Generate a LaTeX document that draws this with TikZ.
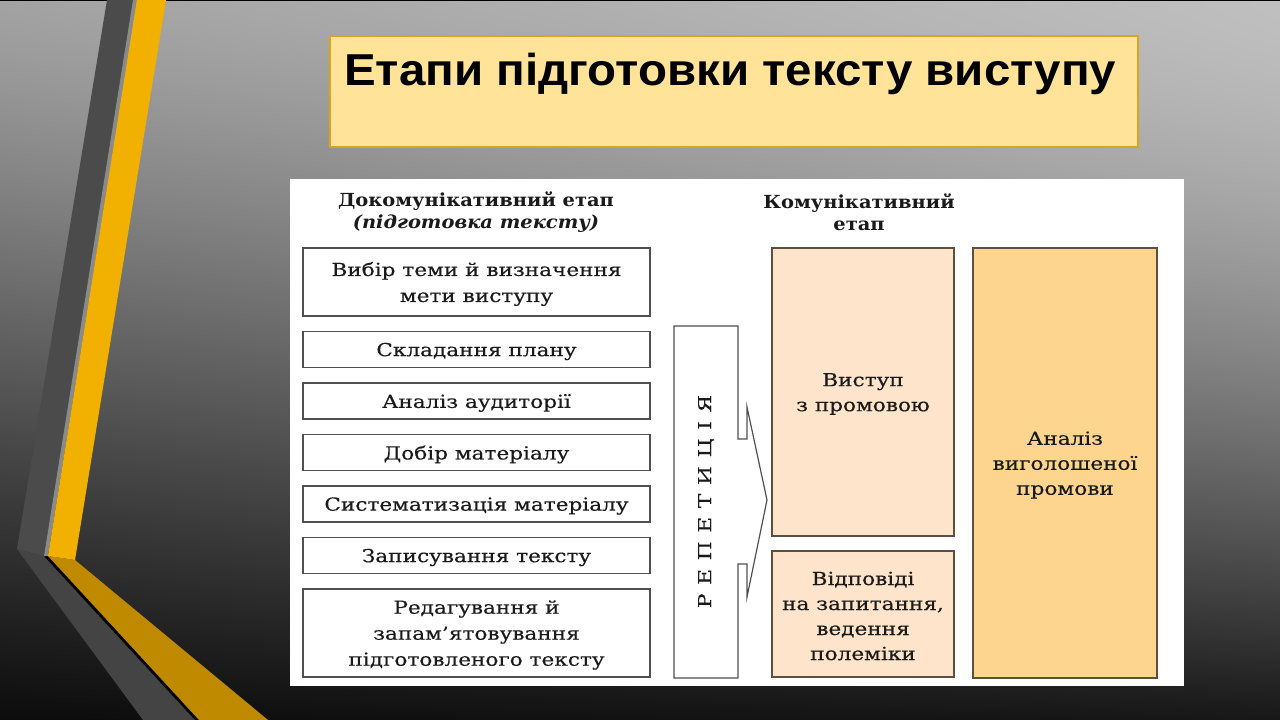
\documentclass[tikz,border=0pt]{standalone}
\usepackage{fontspec}
\usepackage{graphicx}
\setmainfont{DejaVu Serif}
\newfontfamily\titlefont{Liberation Sans}
\newfontfamily\bodyfont{DejaVu Serif}[FakeStretch=1.2, FakeBold=0.35]
\newfontfamily\hdrfont{DejaVu Serif}[FakeStretch=1.08]
\definecolor{stripegray}{HTML}{4B4B4B}
\definecolor{stripegraylow}{HTML}{444444}
\definecolor{stripelight}{HTML}{8A8A8A}
\definecolor{stripeyel}{HTML}{F2B000}
\definecolor{stripeyellow}{HTML}{C08A00}
\definecolor{titlefill}{HTML}{FFE399}
\definecolor{titleborder}{HTML}{D9A521}
\definecolor{boxline}{HTML}{505050}
\definecolor{peach}{HTML}{FDE4CA}
\definecolor{orangebox}{HTML}{FDD58E}
\definecolor{brownline}{HTML}{5E5040}
\definecolor{inktext}{HTML}{1A1A1A}
\pgfdeclarefunctionalshading{bgfunc}{\pgfpoint{0pt}{0pt}}{\pgfpoint{1280pt}{720pt}}{}{
  717 div 1 exch sub
  dup dup sqrt mul 0.66 mul 0.75 exch sub
  3 1 roll
  0.32 mul 0.15 add
  exch 1275 div 1 exch sub
  mul 1 exch sub
  mul
  dup dup
}
\begin{document}
\begin{tikzpicture}[x=1pt,y=-1pt,
  txt/.style={font=\bodyfont\fontsize{18}{26}\selectfont, text=inktext, align=center, inner sep=0pt},
  rtxt/.style={font=\bodyfont\fontsize{18}{25}\selectfont, text=inktext, align=center, inner sep=0pt},
  lbox/.style={draw=boxline, line width=1.3pt, fill=white, minimum width=347pt, inner sep=0pt},
  rbox/.style={draw=brownline, line width=1.3pt, minimum width=182pt, inner sep=0pt},
  hdr/.style={font=\hdrfont\fontsize{18}{22}\selectfont\bfseries, text=inktext, align=center, inner sep=0pt}
]
\useasboundingbox (0,0) rectangle (1280,720);
% background
\node[inner sep=0pt, outer sep=0pt, anchor=south west] (bg) at (0,720) {\pgfuseshading{bgfunc}};
% decorative stripes
\fill[stripegraylow] (17,549) -- (44,556) -- (197,720) -- (143,720) -- cycle;
\fill[black] (44,556) -- (50,556) -- (203,720) -- (195,720) -- cycle;
\fill[stripeyellow] (48,556) -- (75,560) -- (268,720) -- (199,720) -- cycle;
\fill[stripegray] (107,0) -- (135,0) -- (44,556) -- (17,549) -- cycle;
\fill[stripelight] (133,0) -- (137,0) -- (48,556) -- (44,556) -- cycle;
\fill[stripeyel] (137,0) -- (166,0) -- (75,560) -- (48,556) -- cycle;
% title
\node[draw=titleborder, line width=1.5pt, fill=titlefill, minimum width=808pt, minimum height=111pt, inner sep=0pt] (titlebox) at (734,91.5) {};
\node[anchor=base west, inner sep=0pt] (title) at (344,85)
  {\resizebox{772pt}{\height}{\titlefont\fontsize{44.7}{50}\selectfont\bfseries Етапи підготовки тексту виступу}};
% panel
\fill[white] (290,179) rectangle (1184,686);
% headers
\node[hdr, anchor=base] (h1) at (476,206) {Докомунікативний етап};
\node[hdr, anchor=base] (h1b) at (476,228) {\itshape (підготовка тексту)};
\node[hdr, anchor=base] (h2) at (859,208) {Комунікативний};
\node[hdr, anchor=base] (h2b) at (859,230) {етап};
% left boxes
\node[lbox, minimum height=68pt] (b1) at (476.5,282) {};
\node[lbox, minimum height=36pt] (b2) at (476.5,349.5) {};
\node[lbox, minimum height=36pt] (b3) at (476.5,401) {};
\node[lbox, minimum height=36pt] (b4) at (476.5,452.5) {};
\node[lbox, minimum height=36pt] (b5) at (476.5,504) {};
\node[lbox, minimum height=36pt] (b6) at (476.5,555.5) {};
\node[lbox, minimum height=88pt] (b7) at (476.5,633) {};
\node[txt] (t1) at ([yshift=-2pt]b1.center) {Вибір теми й визначення\\мети виступу};
\node[txt] (t2) at ([yshift=-2pt]b2.center) {Складання плану};
\node[txt] (t3) at ([yshift=-2pt]b3.center) {Аналіз аудиторії};
\node[txt] (t4) at ([yshift=-2pt]b4.center) {Добір матеріалу};
\node[txt] (t5) at ([yshift=-2pt]b5.center) {Систематизація матеріалу};
\node[txt] (t6) at ([yshift=-2pt]b6.center) {Записування тексту};
\node[txt] (t7) at ([yshift=-2pt]b7.center) {Редагування й\\запам’ятовування\\підготовленого тексту};
% repetition arrow
\draw[boxline, line width=1.2pt, fill=white]
  (674,326) -- (738,326) -- (738,439) -- (747,439) -- (747,407) -- (767,500)
  -- (747,597) -- (747,564) -- (738,564) -- (738,678) -- (674,678) -- cycle;
\node[inner sep=0pt, rotate=90, text=inktext, font=\bodyfont\fontsize{18}{20}\selectfont] (rep) at (706,501.5)
  {\hbox to 213pt{Р\hfill Е\hfill П\hfill Е\hfill Т\hfill И\hfill Ц\hfill І\hfill Я}};
% right boxes
\node[rbox, fill=peach, minimum height=288pt] (v1) at (863,392) {};
\node[rbox, fill=peach, minimum height=126pt] (v2) at (863,614) {};
\node[rbox, fill=orangebox, minimum width=184pt, minimum height=430pt] (an) at (1065,463) {};
\node[rtxt] (v1t) at ([yshift=-2pt]v1.center) {Виступ\\з промовою};
\node[rtxt] (v2t) at ([yshift=-2pt]v2.center) {Відповіді\\на запитання,\\ведення\\полеміки};
\node[rtxt] (ant) at ([yshift=-2pt]an.center) {Аналіз\\виголошеної\\промови};
\end{tikzpicture}
\end{document}
